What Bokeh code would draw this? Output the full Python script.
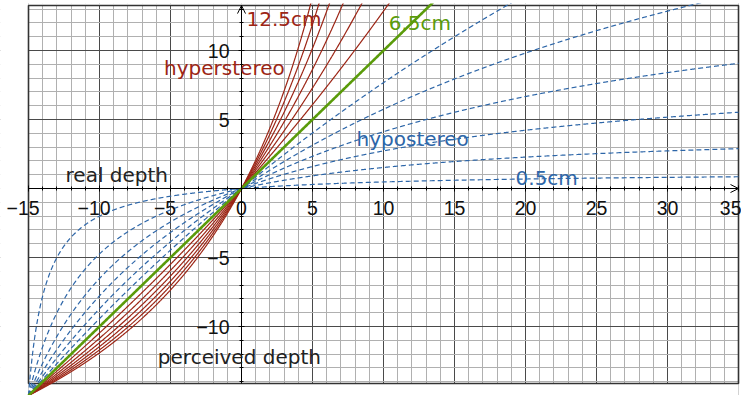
import numpy as np
from bokeh.plotting import figure
from bokeh.models import FixedTicker, CustomJSTickFormatter, Arrow, OpenHead, Label
from bokeh.embed import file_html
from bokeh.resources import INLINE

# ---- data ----
hypo_baselines = [0.5, 1.5, 2.5, 3.5, 4.5, 5.5]      # cm, dashed blue
ortho_baseline = 6.5                                   # cm, green
hyper_baselines = [7.5, 8.5, 9.5, 10.5, 11.5, 12.5]   # cm, red
eye_separation = 6.5
viewing_distance = 15.0
x_ticks = [-15, -10, -5, 0, 5, 10, 15, 20, 25, 30, 35]
y_ticks = [-10, -5, 5, 10]

RED = "#9c2515"
BLUE = "#2d66a8"
GREEN = "#5a9b0a"

# plotting box (bordered area) and the slightly larger canvas view
BOX_X = (-15.0, 35.0)
BOX_Y = (-14.13, 13.26)
VIEW_X = (-16.972, 35.211)
VIEW_Y = (-15.0, 13.41)
PAD = 3.0

real_depth = np.concatenate([-15 + np.logspace(-5, 0, 500)[:-1], np.linspace(-14, 35, 2500)])


def perceived(z, b):
    r = (b / eye_separation) * z / (viewing_distance + z)
    zp = np.full_like(z, np.nan)
    ok = r < 0.999
    zp[ok] = r[ok] * viewing_distance / (1 - r[ok])
    zp[zp > 40] = np.nan
    return zp


p = figure(width=741, height=395, x_range=VIEW_X, y_range=VIEW_Y,
           output_backend="svg", toolbar_location=None,
           min_border_left=0, min_border_right=0, min_border_top=3, min_border_bottom=0,
           background_fill_color="white", border_fill_color="white")
p.outline_line_color = None

# x labels: keep the digits centred on the tick, minus sign hanging to the left
xfmt = CustomJSTickFormatter(code="return tick < 0 ? '\\u2212' + Math.abs(tick) + '\\u2007' : String(tick);")
yfmt = CustomJSTickFormatter(code="return tick < 0 ? '\\u2212' + Math.abs(tick) : String(tick);")

p.xaxis.ticker = FixedTicker(ticks=x_ticks, minor_ticks=list(range(-15, 36)))
p.yaxis.ticker = FixedTicker(ticks=y_ticks, minor_ticks=list(range(-14, 14)))
p.xaxis.formatter = xfmt
p.yaxis.formatter = yfmt
p.xaxis.bounds = BOX_X
p.yaxis.bounds = BOX_Y
for ax in (p.xaxis[0], p.yaxis[0]):
    ax.fixed_location = 0
    ax.axis_line_color = "black"
    ax.axis_line_width = 1
    ax.major_tick_line_color = "black"
    ax.minor_tick_line_color = "black"
    ax.major_tick_in = 3
    ax.major_tick_out = 3
    ax.minor_tick_in = 2
    ax.minor_tick_out = 2
    ax.major_label_text_font = "Liberation Sans"
    ax.major_label_text_font_size = "19.5px"
    ax.major_label_text_color = "#111111"
p.xaxis.major_label_standoff = 5
p.yaxis.major_label_standoff = 9

for g in (p.xgrid[0], p.ygrid[0]):
    g.grid_line_color = "#4a4a4a"
    g.grid_line_width = 1
    g.minor_grid_line_color = "#b0b0b0"
    g.minor_grid_line_width = 1

# white masks so the grid stays inside the bordered box
p.quad(left=[VIEW_X[0] - PAD, BOX_X[1], BOX_X[0], BOX_X[0]],
       right=[BOX_X[0], VIEW_X[1] + PAD, BOX_X[1], BOX_X[1]],
       bottom=[VIEW_Y[0] - PAD, VIEW_Y[0] - PAD, VIEW_Y[0] - PAD, BOX_Y[1]],
       top=[VIEW_Y[1] + PAD, VIEW_Y[1] + PAD, BOX_Y[0], VIEW_Y[1] + PAD],
       fill_color="white", line_color=None)
# border
p.quad(left=[BOX_X[0]], right=[BOX_X[1]], bottom=[BOX_Y[0]], top=[BOX_Y[1]],
       fill_color=None, line_color="#333333", line_width=1.6)

# curves
for b in hypo_baselines:
    p.line(real_depth, perceived(real_depth, b), line_color=BLUE, line_width=1.2, line_dash="5 3")
for b in hyper_baselines:
    p.line(real_depth, perceived(real_depth, b), line_color=RED, line_width=1.2)
p.line(real_depth, perceived(real_depth, ortho_baseline), line_color=GREEN, line_width=2.6)

# axis arrows
p.add_layout(Arrow(end=OpenHead(size=8, line_color="black", line_width=1),
                   x_start=34, y_start=0, x_end=BOX_X[1], y_end=0, line_color="black", line_width=1))
p.add_layout(Arrow(end=OpenHead(size=8, line_color="black", line_width=1),
                   x_start=0, y_start=12, x_end=0, y_end=BOX_Y[1], line_color="black", line_width=1))

# text labels
def lab(x, y, t, color, size):
    p.add_layout(Label(x=x, y=y, text=t, text_color=color, text_font="DejaVu Sans",
                       text_font_size=size, text_baseline="alphabetic", text_align="left"))

lab(0.35, 12.31, "12.5cm", RED, "20px")
lab(-5.45, 8.76, "hyperstereo", RED, "20px")
lab(10.37, 12.0, "6.5cm", GREEN, "20px")
lab(8.1, 3.57, "hypostereo", BLUE, "20px")
lab(19.3, 0.77, "0.5cm", BLUE, "20px")
lab(-12.39, 0.96, "real depth", "#222222", "20px")
lab(-5.89, -12.2, "perceived depth", "#222222", "20px")

open("out.html", "w").write(file_html(p, INLINE))
